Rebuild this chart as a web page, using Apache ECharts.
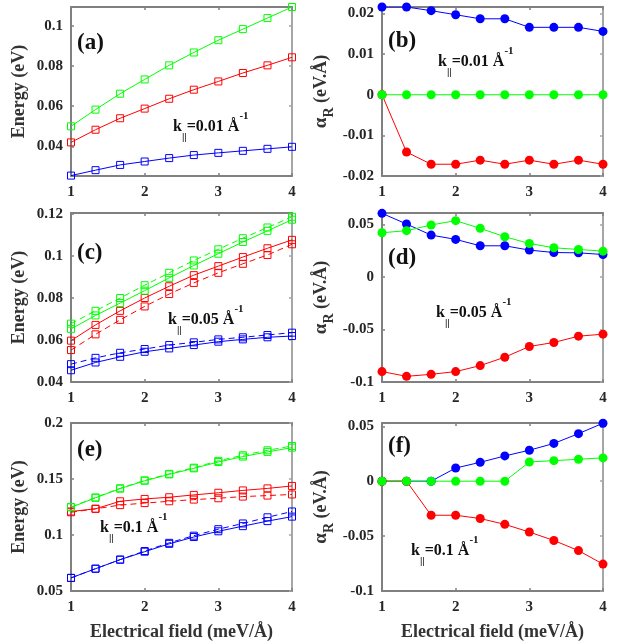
<!DOCTYPE html>
<html>
<head>
<meta charset="utf-8">
<title>Energy and Rashba coefficient vs field</title>
<script src="https://cdn.jsdelivr.net/npm/echarts@6/dist/echarts.min.js"></script>
<style>html,body{margin:0;padding:0;background:#fff}</style>
</head>
<body>
<div id="main" style="width:622px;height:644px"></div>
<script>
// electric field values (meV/Å) shared by all panels
var field = [1, 1.333, 1.667, 2, 2.333, 2.667, 3, 3.333, 3.667, 4];
var fieldTicks = [1, 2, 3, 4];

// (a) energy, k=0.01
var aGreen = [0.0500, 0.0583, 0.0662, 0.0733, 0.0803, 0.0867, 0.0928, 0.0983, 0.1038, 0.1093];
var aRed   = [0.0420, 0.0483, 0.0540, 0.0588, 0.0637, 0.0682, 0.0723, 0.0765, 0.0803, 0.0843];
var aBlue  = [0.0255, 0.0282, 0.0308, 0.0325, 0.0342, 0.0357, 0.0368, 0.0378, 0.0388, 0.0398];
var aTicks = [0.04, 0.06, 0.08, 0.1];

// (b) alpha_R, k=0.01
var bBlue  = [0.0216, 0.0216, 0.0207, 0.0197, 0.0187, 0.0187, 0.0166, 0.0166, 0.0166, 0.0156];
var bRed   = [0, -0.0141, -0.0171, -0.0171, -0.0161, -0.0171, -0.0161, -0.0171, -0.0161, -0.0171];
var bGreen = [0, 0, 0, 0, 0, 0, 0, 0, 0, 0];
var bTicks = [-0.02, -0.01, 0, 0.01, 0.02];

// (c) energy, k=0.05 (solid / dashed)
var cGreenSolid = [0.0653, 0.0717, 0.0776, 0.0835, 0.0896, 0.0955, 0.1011, 0.1067, 0.1120, 0.1173];
var cGreenDash  = [0.0678, 0.0739, 0.0800, 0.0861, 0.0920, 0.0979, 0.1032, 0.1085, 0.1136, 0.1187];
var cRedSolid   = [0.0597, 0.0672, 0.0739, 0.0800, 0.0856, 0.0909, 0.0952, 0.0995, 0.1037, 0.1077];
var cRedDash    = [0.0552, 0.0627, 0.0696, 0.0760, 0.0819, 0.0872, 0.0920, 0.0963, 0.1005, 0.1056];
var cBlueSolid  = [0.0456, 0.0493, 0.0520, 0.0544, 0.0560, 0.0576, 0.0592, 0.0603, 0.0613, 0.0619];
var cBlueDash   = [0.0485, 0.0515, 0.0539, 0.0557, 0.0576, 0.0589, 0.0603, 0.0613, 0.0624, 0.0635];
var cTicks = [0.04, 0.06, 0.08, 0.1, 0.12];

// (d) alpha_R, k=0.05
var dBlue  = [0.0605, 0.0503, 0.0398, 0.0357, 0.0296, 0.0296, 0.0255, 0.0232, 0.0229, 0.0213];
var dRed   = [-0.0901, -0.0946, -0.0927, -0.0901, -0.0844, -0.0764, -0.0662, -0.0624, -0.0564, -0.0545];
var dGreen = [0.0420, 0.0440, 0.0494, 0.0535, 0.0462, 0.0382, 0.0318, 0.0277, 0.0261, 0.0245];
var dTicks = [-0.1, -0.05, 0, 0.05];

// (e) energy, k=0.1 (solid / dashed)
var eGreenSolid = [0.1247, 0.1332, 0.1414, 0.1484, 0.1541, 0.1595, 0.1652, 0.1700, 0.1742, 0.1780];
var eGreenDash  = [0.1250, 0.1335, 0.1417, 0.1488, 0.1546, 0.1601, 0.1662, 0.1712, 0.1756, 0.1795];
var eRedSolid   = [0.1210, 0.1234, 0.1301, 0.1322, 0.1337, 0.1358, 0.1377, 0.1398, 0.1416, 0.1438];
var eRedDash    = [0.1203, 0.1234, 0.1267, 0.1285, 0.1301, 0.1316, 0.1328, 0.1343, 0.1352, 0.1362];
var eBlueSolid  = [0.0617, 0.0699, 0.0780, 0.0851, 0.0921, 0.0982, 0.1033, 0.1079, 0.1124, 0.1164];
var eBlueDash   = [0.0617, 0.0699, 0.0780, 0.0857, 0.0930, 0.0994, 0.1052, 0.1103, 0.1158, 0.1210];
var eTicks = [0.05, 0.1, 0.15, 0.2];

// (f) alpha_R, k=0.1
var fBlue  = [0, 0, 0, 0.0120, 0.0172, 0.0230, 0.0282, 0.0344, 0.0433, 0.0528];
var fRed   = [0, 0, -0.0310, -0.0310, -0.0340, -0.0393, -0.0463, -0.0540, -0.0632, -0.0755];
var fGreen = [0, 0, 0, 0, 0, 0, 0.0175, 0.0187, 0.0200, 0.0212];
var fTicks = [-0.1, -0.05, 0, 0.05];

var GREEN = '#00ff00', RED = '#ff0000', BLUE = '#0000ff';
var FONT = '"Liberation Serif", "Times New Roman", serif';
var DARK = '#262626';
var BOX = '#808080', BOX_R = '#a6a6a6';

var energyName = 'Energy (eV)';
var alphaName = '{g|α}{s|R}{n| (eV.Å)}';

var panels = [
  {left: 71,  top: 7,   h: 169, min: 0.0253, max: 0.1093, ticks: aTicks, name: energyName, tag: '(a)', tagPos: [77, 32],  k: '0.01', kPos: [173, 111], xName: false},
  {left: 382, top: 7,   h: 169, min: -0.02,  max: 0.0216, ticks: bTicks, name: alphaName,  tag: '(b)', tagPos: [388, 30], k: '0.01', kPos: [438, 46],  xName: false},
  {left: 71,  top: 213, h: 169, min: 0.04,   max: 0.1205, ticks: cTicks, name: energyName, tag: '(c)', tagPos: [77, 242], k: '0.05', kPos: [168, 304], xName: false},
  {left: 382, top: 213, h: 169, min: -0.1,   max: 0.0608, ticks: dTicks, name: alphaName,  tag: '(d)', tagPos: [388, 247], k: '0.05', kPos: [436, 297], xName: false},
  {left: 71,  top: 423, h: 168, min: 0.05,   max: 0.2,    ticks: eTicks, name: energyName, tag: '(e)', tagPos: [77, 439], k: '0.1',  kPos: [100, 512], xName: true},
  {left: 382, top: 423, h: 168, min: -0.1,   max: 0.053,  ticks: fTicks, name: alphaName,  tag: '(f)', tagPos: [388, 435], k: '0.1',  kPos: [411, 535], xName: true}
];

var grids = [], xAxes = [], yAxes = [], series = [], graphics = [];

panels.forEach(function (p, i) {
  grids.push({left: p.left, top: p.top, width: 221, height: p.h, containLabel: false});
  var isAlpha = (i % 2 === 1);
  // bottom x axis
  xAxes.push({
    gridIndex: i, type: 'value', min: 1, max: 4, interval: 1,
    axisLine: {show: true, onZero: false, lineStyle: {color: BOX, width: 2}},
    axisTick: {show: true, inside: true, length: 3, lineStyle: {color: BOX, width: 1.5}},
    axisLabel: {color: DARK, fontFamily: FONT, fontWeight: 'bold', fontSize: 15, margin: 9},
    splitLine: {show: false},
    name: p.xName ? 'Electrical field (meV/Å)' : '',
    nameLocation: 'middle', nameGap: 32,
    nameTextStyle: {color: '#333', fontFamily: FONT, fontWeight: 'bold', fontSize: 18}
  });
  // top box line
  xAxes.push({
    gridIndex: i, type: 'value', min: 1, max: 4, interval: 1, position: 'top',
    axisLine: {show: true, onZero: false, lineStyle: {color: BOX, width: 2}},
    axisTick: {show: true, inside: true, length: 3, lineStyle: {color: BOX, width: 1.5}},
    axisLabel: {show: false}, splitLine: {show: false}
  });
  yAxes.push({
    gridIndex: i, type: 'value', min: p.min, max: p.max,
    axisLine: {show: true, onZero: false, lineStyle: {color: BOX, width: 2}},
    axisTick: {show: true, inside: true, length: 3, customValues: p.ticks, lineStyle: {color: BOX, width: 1.5}},
    axisLabel: {color: DARK, fontFamily: FONT, fontWeight: 'bold', fontSize: 15, margin: 8, customValues: p.ticks},
    splitLine: {show: false},
    name: p.name, nameLocation: 'middle', nameRotate: 90,
    nameGap: isAlpha ? 46 : 43,
    nameTextStyle: {
      color: '#333', fontFamily: FONT, fontWeight: 'bold', fontSize: 18,
      rich: {
        g: {fontFamily: FONT, fontWeight: 'bold', fontSize: 19, color: '#333', lineHeight: 30, verticalAlign: 'middle'},
        s: {fontFamily: FONT, fontWeight: 'bold', fontSize: 14, color: '#333', lineHeight: 14, verticalAlign: 'bottom'},
        n: {fontFamily: FONT, fontWeight: 'bold', fontSize: 18, color: '#333', lineHeight: 30, verticalAlign: 'middle'}
      }
    }
  });
  // right box line
  yAxes.push({
    gridIndex: i, type: 'value', min: p.min, max: p.max, position: 'right',
    axisLine: {show: true, onZero: false, lineStyle: {color: BOX_R, width: 2}},
    axisTick: {show: true, inside: true, length: 3, customValues: p.ticks, lineStyle: {color: BOX_R, width: 1.5}},
    axisLabel: {show: false, customValues: p.ticks}, splitLine: {show: false}
  });

  graphics.push({
    type: 'text', left: p.tagPos[0], top: p.tagPos[1], z: 10,
    style: {text: p.tag, fill: '#111', font: 'bold 23px ' + FONT}
  });
  graphics.push({
    type: 'text', left: p.kPos[0], top: p.kPos[1], z: 10,
    style: {
      text: '{m|k}{s|||}{m|=' + p.k + ' Å}{p|-1}',
      rich: {
        m: {fontFamily: FONT, fontWeight: 'bold', fontSize: 16, fill: '#111', lineHeight: 32, verticalAlign: 'middle'},
        s: {fontFamily: FONT, fontWeight: 'bold', fontSize: 11, fill: '#111', lineHeight: 13, verticalAlign: 'bottom'},
        p: {fontFamily: FONT, fontWeight: 'bold', fontSize: 11, fill: '#111', lineHeight: 20, verticalAlign: 'top'}
      }
    }
  });
});

function pts(vals) {
  return field.map(function (x, j) { return [x, vals[j]]; });
}
function squares(i, vals, color, dashed) {
  return {
    type: 'line', xAxisIndex: i * 2, yAxisIndex: i * 2, data: pts(vals),
    symbol: 'rect', symbolSize: 7,
    itemStyle: {color: 'rgba(255,255,255,0)', borderColor: color, borderWidth: 1},
    lineStyle: {color: color, width: 1, type: dashed ? [6, 4] : 'solid'},
    silent: true
  };
}
function dots(i, vals, color) {
  return {
    type: 'line', xAxisIndex: i * 2, yAxisIndex: i * 2, data: pts(vals),
    symbol: 'circle', symbolSize: 9,
    itemStyle: {color: color},
    lineStyle: {color: color, width: 1},
    silent: true
  };
}

series.push(squares(0, aBlue, BLUE), squares(0, aRed, RED), squares(0, aGreen, GREEN));
series.push(dots(1, bBlue, BLUE), dots(1, bRed, RED), dots(1, bGreen, GREEN));
series.push(squares(2, cBlueSolid, BLUE), squares(2, cBlueDash, BLUE, true),
            squares(2, cRedSolid, RED), squares(2, cRedDash, RED, true),
            squares(2, cGreenSolid, GREEN), squares(2, cGreenDash, GREEN, true));
series.push(dots(3, dBlue, BLUE), dots(3, dRed, RED), dots(3, dGreen, GREEN));
series.push(squares(4, eBlueSolid, BLUE), squares(4, eBlueDash, BLUE, true),
            squares(4, eRedSolid, RED), squares(4, eRedDash, RED, true),
            squares(4, eGreenSolid, GREEN), squares(4, eGreenDash, GREEN, true));
series.push(dots(5, fBlue, BLUE), dots(5, fRed, RED), dots(5, fGreen, GREEN));

var myChart = echarts.init(document.getElementById('main'));
myChart.setOption({
  animation: false,
  grid: grids,
  xAxis: xAxes,
  yAxis: yAxes,
  series: series,
  graphic: graphics
});
</script>
</body>
</html>
